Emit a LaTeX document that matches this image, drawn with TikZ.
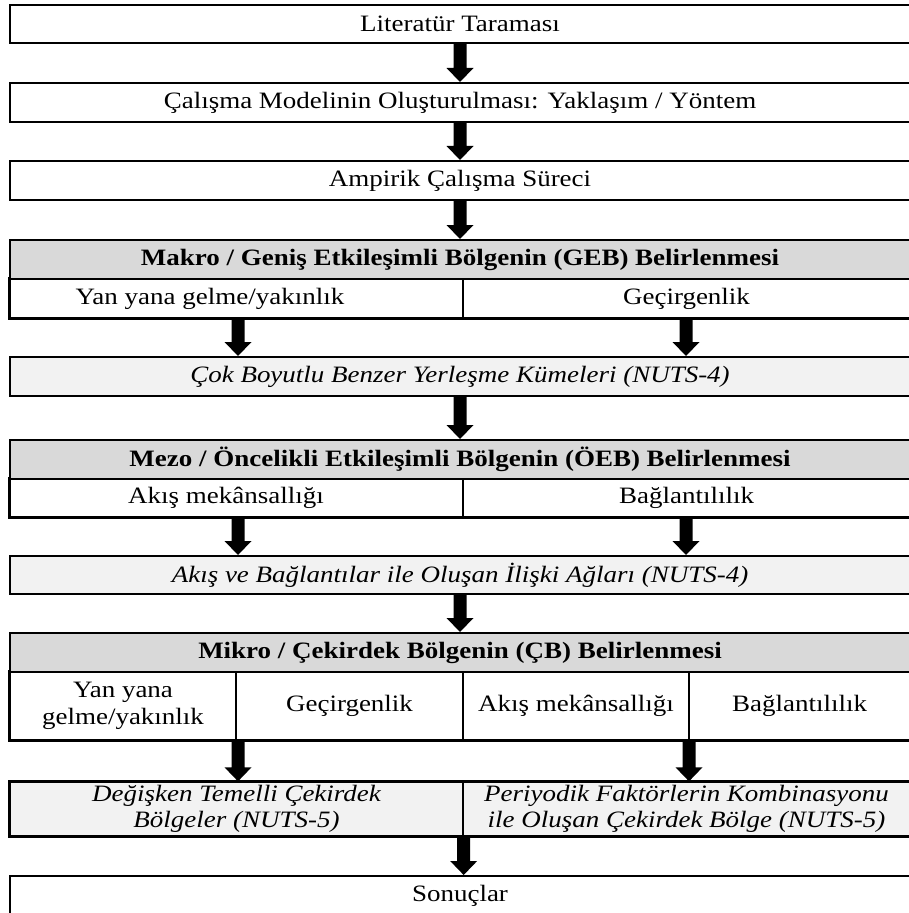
\documentclass[tikz,border=0pt]{standalone}
\usepackage{fontspec}
\setmainfont{Liberation Serif}[FakeStretch=1.15]
\usetikzlibrary{calc}
\definecolor{headgray}{HTML}{D9D9D9}
\definecolor{resgray}{HTML}{F2F2F2}

% block arrow from #1 (shaft start) to #2 (tip)
\newcommand\blockarrow[2]{%
  \fill ($(#1)+(-6.5,0)$) -- ($(#2)+(-6.5,-14)$) -- ($(#2)+(-13.5,-14)$) -- (#2)
    -- ($(#2)+(13.5,-14)$) -- ($(#2)+(6.5,-14)$) -- ($(#1)+(6.5,0)$) -- cycle;}

\begin{document}
\begin{tikzpicture}[x=0.75pt,y=-0.75pt,
  txt/.style={inner sep=0pt, align=center, font=\fontsize{17.6}{20}\selectfont},
  box/.style={txt, draw, line width=1.5pt},
  cellbox/.style={txt, draw, line width=1pt},
  full/.style={box, minimum width=675pt, minimum height=29.25pt},
  head/.style={full, fill=headgray, font=\fontsize{17.6}{20}\selectfont\bfseries},
  result/.style={full, fill=resgray, font=\fontsize{17.6}{20}\selectfont\itshape},
  halfL/.style={cellbox, minimum width=339.75pt},
  halfR/.style={cellbox, minimum width=335.25pt},
  frame/.style={line width=1.5pt}]
\useasboundingbox (0,0) rectangle (908,913);

% main sequence
\node[full, minimum height=28.5pt] (lit) at (460,24) {Literatür Taraması};
\node[full] (cal) at (460,102.5) {Çalışma Modelinin Oluşturulması: Yaklaşım / Yöntem};
\node[full] (amp) at (460,180.5) {Ampirik Çalışma Süreci};

% macro level
\node[halfL, minimum height=29.25pt] (gebL) at (236.5,298.5) {};
\node[txt] (gebLt) at (210,298.5) {Yan yana gelme/yakınlık};
\node[halfR, minimum height=29.25pt] (gebR) at (686.5,298.5) {Geçirgenlik};
\draw[frame] (gebL.north west) rectangle (gebR.south east);
\node[head] (geb) at (460,259.5) {Makro / Geniş Etkileşimli Bölgenin (GEB) Belirlenmesi};
\node[result] (cok) at (460,376.5) {Çok Boyutlu Benzer Yerleşme Kümeleri (NUTS-4)};

% meso level
\node[halfL, minimum height=28.5pt] (oebL) at (236.5,498) {};
\node[txt] (oebLt) at (226,498) {Akış mekânsallığı};
\node[halfR, minimum height=28.5pt] (oebR) at (686.5,498) {Bağlantılılık};
\draw[frame] (oebL.north west) rectangle (oebR.south east);
\node[head] (oeb) at (460,459.5) {Mezo / Öncelikli Etkileşimli Bölgenin (ÖEB) Belirlenmesi};
\node[result, minimum height=28.5pt] (akis) at (460,575) {Akış ve Bağlantılar ile Oluşan İlişki Ağları (NUTS-4)};

% micro level
\node[cellbox, minimum width=169.5pt, minimum height=51pt] (cb1) at (123,706) {Yan yana\\gelme/yakınlık};
\node[cellbox, minimum width=170.25pt, minimum height=51pt] (cb2) at (349.5,706) {Geçirgenlik};
\node[cellbox, minimum width=169.5pt, minimum height=51pt] (cb3) at (576,706) {Akış mekânsallığı};
\node[cellbox, minimum width=165.75pt, minimum height=51pt] (cb4) at (799.5,706) {Bağlantılılık};
\draw[frame] (cb1.north west) rectangle (cb4.south east);
\node[head] (cb) at (460,652.5) {Mikro / Çekirdek Bölgenin (ÇB) Belirlenmesi};

\node[halfL, fill=resgray, minimum height=40.5pt, font=\fontsize{17.6}{20}\selectfont\itshape] (degL) at (236.5,809)
  {Değişken Temelli Çekirdek\\Bölgeler (NUTS-5)};
\node[halfR, fill=resgray, minimum height=40.5pt, font=\fontsize{17.6}{20}\selectfont\itshape] (degR) at (686.5,809)
  {Periyodik Faktörlerin Kombinasyonu\\ile Oluşan Çekirdek Bölge (NUTS-5)};
\draw[frame] (degL.north west) rectangle (degR.south east);

\node[full, minimum height=30pt] (son) at (460,896) {Sonuçlar};

% arrow columns
\coordinate (colL) at (238,0);
\coordinate (colR) at (686,0);
\coordinate (colR2) at (689,0);

% connectors
\blockarrow{lit.south}{cal.north}
\blockarrow{cal.south}{amp.north}
\blockarrow{amp.south}{geb.north}
\blockarrow{gebL.south -| colL}{cok.north -| colL}
\blockarrow{gebR.south -| colR}{cok.north -| colR}
\blockarrow{cok.south}{oeb.north}
\blockarrow{oebL.south -| colL}{akis.north -| colL}
\blockarrow{oebR.south -| colR}{akis.north -| colR}
\blockarrow{akis.south}{cb.north}
\blockarrow{cb1.south -| colL}{degL.north -| colL}
\blockarrow{cb3.south -| colR2}{degR.north -| colR2}
\blockarrow{degL.south east}{son.north -| degL.south east}
\end{tikzpicture}
\end{document}
